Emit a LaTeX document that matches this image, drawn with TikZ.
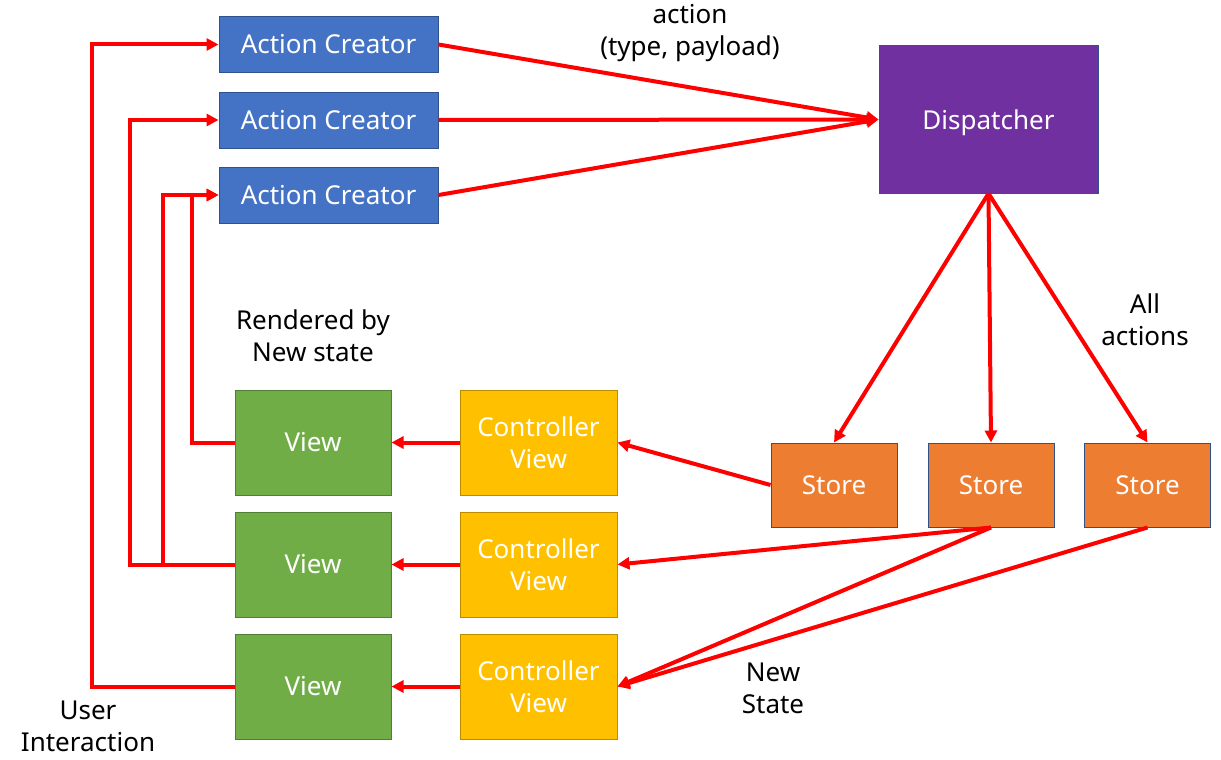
\documentclass[tikz,border=0pt]{standalone}
\usepackage{fontspec}
\setmainfont{Noto Sans}
\usetikzlibrary{arrows.meta}
\definecolor{acblue}{HTML}{4472C4}
\definecolor{acborder}{HTML}{2F528F}
\definecolor{disp}{HTML}{7030A0}
\definecolor{storec}{HTML}{ED7D31}
\definecolor{viewc}{HTML}{70AD47}
\definecolor{viewb}{HTML}{507E32}
\definecolor{ctrlc}{HTML}{FFC000}
\definecolor{ctrlb}{HTML}{BC8C00}
\definecolor{arr}{HTML}{FF0000}
\tikzset{
  box/.style={draw=acborder, line width=1pt, inner sep=0pt, text=white, align=center, font=\fontsize{26}{32}\selectfont},
  acbox/.style={box, fill=acblue, minimum width=219pt, minimum height=56pt},
  dispbox/.style={box, fill=disp, minimum width=219pt, minimum height=147pt},
  storebox/.style={box, fill=storec, minimum width=126pt, minimum height=84pt},
  viewbox/.style={box, draw=viewb, fill=viewc, minimum width=156pt, minimum height=105pt},
  ctrlbox/.style={box, draw=ctrlb, fill=ctrlc, minimum width=157pt, minimum height=105pt},
  conn/.style={draw=arr, line width=4pt, -{Triangle[length=12pt,width=12pt]}},
  lbl/.style={align=center, font=\fontsize{26}{32}\selectfont, text=black}
}
\begin{document}
\begin{tikzpicture}[x=1pt,y=-1pt]
\useasboundingbox (0,0) rectangle (1221,760);
% action creators
\node[acbox] (ac1) at (328.5,44.5) {Action Creator};
\node[acbox] (ac2) at (328.5,120) {Action Creator};
\node[acbox] (ac3) at (328.5,195) {Action Creator};
\node[dispbox] (disp) at (988.5,119.5) {\raisebox{-3pt}[\height][\depth]{Dispatcher}};
\node[storebox] (s1) at (834,485) {Store};
\node[storebox] (s2) at (991,485) {Store};
\node[storebox] (s3) at (1147.5,485) {Store};
\node[viewbox] (v1) at (313,442.5) {View};
\node[viewbox] (v2) at (313,564.5) {View};
\node[viewbox] (v3) at (313,686.5) {View};
\node[ctrlbox] (c1) at (538.5,442.5) {Controller\\View};
\node[ctrlbox] (c2) at (538.5,564.5) {Controller\\View};
\node[ctrlbox] (c3) at (538.5,686.5) {Controller\\View};
% labels
\node[lbl] (lact) at (690,33) {action\\(type, payload)};
\node[lbl] (lall) at (1145,320) {All\\actions};
\node[lbl] (lren) at (313,336) {Rendered by\\New state};
\node[lbl] (lnew) at (773,688) {New\\State};
\node[lbl] (luser) at (88,726) {User\\Interaction};
% action creators to dispatcher
\draw[conn] (ac1.east) -- (disp.west);
\draw[conn] (ac2.east) -- (disp.west);
\draw[conn] (ac3.east) -- (disp.west);
% dispatcher to stores
\draw[conn] (disp.south) -- (s1.north);
\draw[conn] (disp.south) -- (s2.north);
\draw[conn] (disp.south) -- (s3.north);
% stores to controller views
\draw[conn] (s1.west) -- (c1.east);
\draw[conn] (s2.south) -- (c2.east);
\draw[conn] (s2.south) -- (c3.east);
\draw[conn] (s3.south) -- (c3.east);
% controller views to views
\draw[conn] (c1.west) -- (v1.east);
\draw[conn] (c2.west) -- (v2.east);
\draw[conn] (c3.west) -- (v3.east);
% views to action creators
\draw[conn] (v1.west) -- ++(-43,0) |- (ac3.west);
\draw[conn] (v2.west) -- ++(-105,0) |- (ac2.west);
\draw[conn] (v2.west) -- ++(-72,0) |- (ac3.west);
\draw[conn] (v3.west) -- ++(-143,0) |- (ac1.west);
\end{tikzpicture}
\end{document}
